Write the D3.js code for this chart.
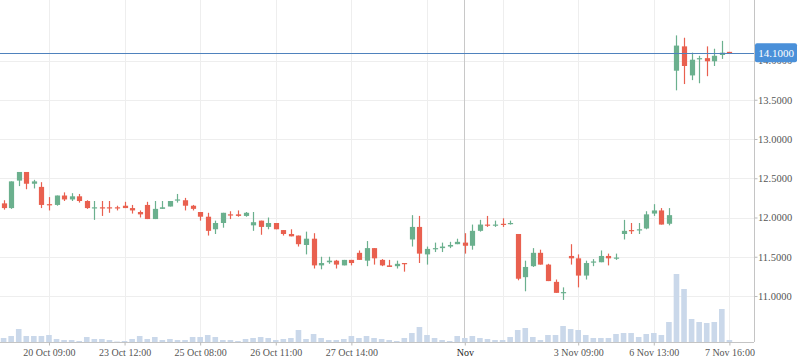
<!DOCTYPE html>
<html>
<head>
<meta charset="utf-8">
<script src="https://cdn.jsdelivr.net/npm/d3@7/dist/d3.min.js"></script>
<style>
  body { margin: 0; background: #fff; }
  svg { display: block; font-family: "Liberation Serif", "Times New Roman", serif; }
</style>
</head>
<body>
<div id="chart"></div>
<script>

// ---DATA---//

var opens = [12.18, 12.12, 12.47, 12.58, 12.43, 12.39, 12.17, 12.16, 12.28, 12.23,
	12.27, 12.21, 12.13, 12.13, 12.13, 12.13, 12.15, 12.12, 12.07, 12.16,
	11.98, 12.11, 12.14, 12.23, 12.22, 12.15, 12.07, 12.01, 11.85, 11.93,
	12.04, 12.04, 12.02, 11.90, 11.96, 11.88, 11.93, 11.84, 11.79, 11.77,
	11.65, 11.73, 11.39, 11.43, 11.45, 11.39, 11.46, 11.55, 11.45, 11.61,
	11.46, 11.39, 11.38, 11.42, 11.72, 11.88, 11.53, 11.61, 11.61, 11.63,
	11.66, 11.68, 11.64, 11.83, 11.91, 11.91, 11.92, 11.93, 11.79, 11.24,
	11.38, 11.55, 11.40, 11.18, 11.05, 11.51, 11.48, 11.26, 11.44, 11.43,
	11.51, 11.49, 11.79, 11.84, 11.85, 11.86, 12.05, 12.09, 11.92, 13.87,
	14.18, 13.81, 14.02, 14.03, 13.99, 14.07, 14.11];

var highs = [12.22, 12.46, 12.58, 12.58, 12.48, 12.45, 12.26, 12.28, 12.32, 12.31,
	12.30, 12.22, 12.21, 12.21, 12.21, 12.15, 12.20, 12.16, 12.09, 12.20,
	12.21, 12.21, 12.21, 12.30, 12.25, 12.16, 12.07, 12.06, 11.96, 12.06,
	12.08, 12.09, 12.07, 12.07, 11.96, 12.00, 11.93, 11.84, 11.85, 11.77,
	11.82, 11.80, 11.50, 11.50, 11.46, 11.46, 11.46, 11.58, 11.70, 11.61,
	11.47, 11.46, 11.45, 11.42, 12.03, 12.02, 11.63, 11.68, 11.68, 11.69,
	11.73, 11.80, 11.91, 11.97, 12.02, 11.96, 11.99, 11.96, 11.79, 11.45,
	11.61, 11.59, 11.41, 11.21, 11.11, 11.66, 11.53, 11.45, 11.47, 11.58,
	11.54, 11.54, 11.97, 11.93, 11.93, 12.08, 12.17, 12.12, 12.12, 14.32,
	14.29, 14.10, 14.06, 14.18, 14.15, 14.25, 14.11];

var lows = [12.10, 12.11, 12.40, 12.36, 12.37, 12.12, 12.09, 12.15, 12.21, 12.21,
	12.19, 12.11, 11.97, 12.02, 12.06, 12.09, 12.12, 12.05, 12.00, 11.98,
	11.98, 12.11, 12.14, 12.19, 12.09, 12.09, 11.96, 11.77, 11.79, 11.87,
	11.98, 12.01, 12.01, 11.83, 11.78, 11.85, 11.85, 11.77, 11.76, 11.63,
	11.53, 11.35, 11.34, 11.41, 11.35, 11.39, 11.39, 11.46, 11.38, 11.40,
	11.38, 11.37, 11.35, 11.31, 11.63, 11.42, 11.40, 11.56, 11.56, 11.61,
	11.66, 11.54, 11.59, 11.82, 11.88, 11.88, 11.88, 11.91, 11.20, 11.06,
	11.37, 11.40, 11.19, 11.04, 10.95, 11.40, 11.11, 11.21, 11.38, 11.43,
	11.39, 11.46, 11.72, 11.79, 11.79, 11.85, 12.02, 11.91, 11.90, 13.62,
	13.70, 13.75, 13.71, 13.80, 13.93, 14.02, 14.10];

var closes = [12.12, 12.46, 12.58, 12.43, 12.46, 12.16, 12.16, 12.28, 12.23, 12.27,
	12.21, 12.12, 12.13, 12.12, 12.12, 12.12, 12.12, 12.09, 12.04, 11.98,
	12.11, 12.13, 12.21, 12.23, 12.15, 12.11, 12.01, 11.83, 11.93, 12.06,
	12.03, 12.02, 12.06, 11.94, 11.88, 11.93, 11.85, 11.79, 11.76, 11.66,
	11.73, 11.39, 11.42, 11.45, 11.40, 11.46, 11.42, 11.46, 11.61, 11.48,
	11.39, 11.37, 11.41, 11.41, 11.88, 11.54, 11.60, 11.61, 11.63, 11.65,
	11.69, 11.64, 11.83, 11.91, 11.90, 11.91, 11.91, 11.93, 11.22, 11.37,
	11.55, 11.40, 11.19, 11.04, 11.05, 11.48, 11.26, 11.42, 11.44, 11.51,
	11.48, 11.49, 11.83, 11.83, 11.85, 12.04, 12.09, 11.91, 12.03, 14.19,
	13.93, 14.01, 14.03, 13.99, 14.06, 14.10, 14.10];

var volumes = [4000, 6000, 13000, 6000, 6000, 6000, 7000, 3000, 2000, 2000,
	1000, 5000, 3000, 3000, 2000, 500, 1000, 3000, 6000, 3000,
	5000, 2000, 3000, 2000, 2000, 5000, 5000, 7000, 5000, 2000,
	2000, 1000, 3000, 4000, 5000, 4000, 2000, 3000, 4000, 12000,
	3000, 8000, 4000, 2000, 2000, 3000, 6000, 4000, 6000, 4000,
	3000, 2000, 1000, 4000, 9000, 15000, 7000, 4000, 2000, 1000,
	6000, 4000, 6000, 4000, 3000, 2000, 2000, 5000, 12000, 14000,
	5000, 2000, 7000, 7000, 16000, 13000, 12000, 7000, 4000, 4000,
	4000, 8000, 9000, 9000, 5000, 8000, 9000, 7000, 20000, 68000,
	53000, 23000, 20000, 19000, 20000, 33000, 2000];

var gridIndex = [6, 16, 26, 36, 46, 56, 66, 76, 86, 96];
var tickIndex = [6, 16, 26, 36, 46, 61, 76, 86, 96];
var tickLabels = ["20 Oct 09:00", "23 Oct 12:00", "25 Oct 08:00", "26 Oct 11:00",
	"27 Oct 14:00", "Nov", "3 Nov 09:00", "6 Nov 13:00", "7 Nov 16:00"];
var monthIndex = 61;
var priceTicks = [11, 11.5, 12, 12.5, 13, 13.5, 14];
var lastPrice = 14.10;

// ---LAYOUT---//

var width = 798;
var height = 363;
var plotRight = 754;
var axisY = 342;

var upColor = "#6bb08e";
var downColor = "#e9604f";

var svg = d3.select("#chart").append("svg")
	.attr("width", width)
	.attr("height", height);

var x = d3.scaleLinear().domain([0, 96]).range([3.6, 729.4]);
var y = d3.scaleLinear().domain([11, 14]).range([296, 60.5]);
var yVol = d3.scaleLinear().domain([0, 100000]).range([axisY, axisY - 100]);

var candles = opens.map(function(o, i) {
	return { i: i, open: o, high: highs[i], low: lows[i], close: closes[i], volume: volumes[i] };
});

// ---GRID---//

var grid = svg.append("g").attr("class", "grid");

grid.selectAll(".hgrid").data(priceTicks).enter().append("line")
	.attr("x1", 0).attr("x2", plotRight)
	.attr("y1", function(d) { return Math.round(y(d)) + 0.5; })
	.attr("y2", function(d) { return Math.round(y(d)) + 0.5; })
	.attr("stroke", "#eeeeee");

grid.selectAll(".vgrid").data(gridIndex).enter().append("line")
	.attr("x1", function(d) { return Math.round(x(d)) + 0.5; })
	.attr("x2", function(d) { return Math.round(x(d)) + 0.5; })
	.attr("y1", 0).attr("y2", axisY)
	.attr("stroke", "#eeeeee");

// month boundary line
grid.append("line")
	.attr("x1", Math.round(x(monthIndex)) - 0.5).attr("x2", Math.round(x(monthIndex)) - 0.5)
	.attr("y1", 0).attr("y2", axisY)
	.attr("stroke", "#c8c8c8");

// ---VOLUME---//

svg.append("g").selectAll("rect").data(candles).enter().append("rect")
	.attr("x", function(d) { return x(d.i) - 2.8; })
	.attr("width", 5.6)
	.attr("y", function(d) { return yVol(d.volume); })
	.attr("height", function(d) { return axisY - yVol(d.volume); })
	.attr("fill", "#cad8ea");

// ---CANDLES---//

var candleG = svg.append("g").selectAll("g").data(candles).enter().append("g");

candleG.append("line")
	.attr("x1", function(d) { return Math.round(x(d.i)) + 0.5; })
	.attr("x2", function(d) { return Math.round(x(d.i)) + 0.5; })
	.attr("y1", function(d) { return y(d.high); })
	.attr("y2", function(d) { return y(d.low); })
	.attr("stroke", function(d) { return d.close < d.open ? downColor : upColor; })
	.attr("stroke-width", 1.2);

candleG.append("rect")
	.attr("x", function(d) { return Math.round(x(d.i)) + 0.5 - 2.6; })
	.attr("width", 5.2)
	.attr("y", function(d) { return y(Math.max(d.open, d.close)); })
	.attr("height", function(d) { return Math.max(1.2, Math.abs(y(d.open) - y(d.close))); })
	.attr("fill", function(d) { return d.close < d.open ? downColor : upColor; });

// ---AXES---//

svg.append("line")
	.attr("x1", 0).attr("x2", plotRight)
	.attr("y1", axisY + 0.5).attr("y2", axisY + 0.5)
	.attr("stroke", "#c4c4c4");

svg.append("line")
	.attr("x1", plotRight + 0.5).attr("x2", plotRight + 0.5)
	.attr("y1", 0).attr("y2", axisY)
	.attr("stroke", "#c4c4c4");

var yAxis = d3.axisRight(y).tickValues(priceTicks).tickSize(3).tickPadding(0.5)
	.tickFormat(d3.format(".4f"));

var yAxisG = svg.append("g")
	.attr("transform", "translate(" + (plotRight + 0.5) + ",0)")
	.call(yAxis);
yAxisG.select(".domain").remove();
yAxisG.selectAll(".tick line").attr("stroke", "#bbbbbb");
yAxisG.selectAll(".tick text")
	.attr("fill", "#555")
	.style("font-family", "'Liberation Serif', serif")
	.style("font-size", "10.5px");

var xAxis = d3.axisBottom(x).tickValues(tickIndex).tickSize(3).tickPadding(3)
	.tickFormat(function(d, i) { return tickLabels[i]; });

var xAxisG = svg.append("g")
	.attr("transform", "translate(0," + (axisY + 0.5) + ")")
	.call(xAxis);
xAxisG.select(".domain").remove();
xAxisG.selectAll(".tick line").attr("stroke", "#bbbbbb");
xAxisG.selectAll(".tick text")
	.attr("fill", function(d) { return d === monthIndex ? "#222" : "#555"; })
	.style("font-family", "'Liberation Serif', serif")
	.style("font-size", "10px");

// ---LAST PRICE---//

svg.append("line")
	.attr("x1", 0).attr("x2", plotRight)
	.attr("y1", Math.round(y(lastPrice)) + 0.5).attr("y2", Math.round(y(lastPrice)) + 0.5)
	.attr("stroke", "#4f82bd");

svg.append("rect")
	.attr("x", plotRight + 1).attr("y", y(lastPrice) - 9.5)
	.attr("width", 42).attr("height", 19).attr("rx", 2)
	.attr("fill", "#4a90d9");

svg.append("text")
	.attr("x", plotRight + 22).attr("y", y(lastPrice))
	.attr("dy", "0.35em")
	.attr("text-anchor", "middle")
	.attr("fill", "#fff")
	.style("font-size", "11px")
	.text(d3.format(".4f")(lastPrice));

</script>
</body>
</html>
